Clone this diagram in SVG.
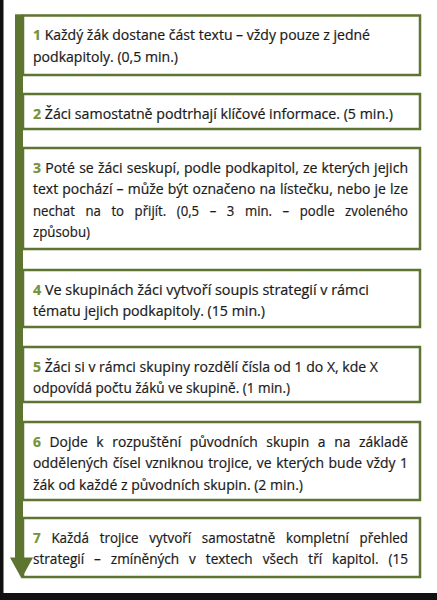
<svg xmlns="http://www.w3.org/2000/svg" width="437" height="600" viewBox="0 0 437 600">
<style>
.box{fill:#ffffff;stroke:#5E7431;stroke-width:2.5}
.t{font-family:"Open Sans","Liberation Sans",sans-serif;font-size:13.8px;fill:#1a1a1a;stroke:#1a1a1a;stroke-width:0.2}
.n{font-weight:bold;fill:#76923C;stroke:#76923C}
.arrow{fill:#5E7431}
</style>
<rect x="0" y="0" width="437" height="600" fill="#ffffff"/>
<rect x="0" y="0" width="3.5" height="600" fill="#111111"/>
<rect x="0" y="593" width="437" height="7" fill="#111111"/>

<g id="step1">
<rect class="box" x="23" y="15.5" width="397" height="59.5"/>
<text class="t" x="33" y="40" textLength="337" lengthAdjust="spacingAndGlyphs"><tspan class="n">1</tspan> Každý žák dostane část textu – vždy pouze z jedné</text>
<text class="t" x="33" y="61.5" textLength="145" lengthAdjust="spacingAndGlyphs">podkapitoly. (0,5 min.)</text>
</g>

<g id="step2">
<rect class="box" x="23" y="94" width="397" height="35"/>
<text class="t" x="33" y="118.5" textLength="360" lengthAdjust="spacingAndGlyphs"><tspan class="n">2</tspan> Žáci samostatně podtrhají klíčové informace. (5 min.)</text>
</g>

<g id="step3">
<rect class="box" x="23" y="148" width="397" height="101"/>
<text class="t" x="33" y="172.5" textLength="375" lengthAdjust="spacingAndGlyphs" word-spacing="0.5"><tspan class="n">3</tspan> Poté se žáci seskupí, podle podkapitol, ze kterých jejich</text>
<text class="t" x="33" y="194" textLength="375" lengthAdjust="spacingAndGlyphs" word-spacing="0.5">text pochází – může být označeno na lístečku, nebo je lze</text>
<text class="t" x="33" y="215.5" textLength="375" lengthAdjust="spacingAndGlyphs" word-spacing="7.5">nechat na to přijít. (0,5 – 3 min. – podle zvoleného</text>
<text class="t" x="33" y="237" textLength="57" lengthAdjust="spacingAndGlyphs">způsobu)</text>
</g>

<g id="step4">
<rect class="box" x="23" y="270" width="397" height="57"/>
<text class="t" x="33" y="294.5" textLength="336" lengthAdjust="spacingAndGlyphs"><tspan class="n">4</tspan> Ve skupinách žáci vytvoří soupis strategií v rámci</text>
<text class="t" x="33" y="316" textLength="232" lengthAdjust="spacingAndGlyphs">tématu jejich podkapitoly. (15 min.)</text>
</g>

<g id="step5">
<rect class="box" x="23" y="347" width="397" height="55"/>
<text class="t" x="33" y="371.5" textLength="345" lengthAdjust="spacingAndGlyphs"><tspan class="n">5</tspan> Žáci si v rámci skupiny rozdělí čísla od 1 do X, kde X</text>
<text class="t" x="33" y="393" textLength="257" lengthAdjust="spacingAndGlyphs">odpovídá počtu žáků ve skupině. (1 min.)</text>
</g>

<g id="step6">
<rect class="box" x="23" y="422" width="397" height="78"/>
<text class="t" x="33" y="446.5" textLength="375" lengthAdjust="spacingAndGlyphs" word-spacing="5"><tspan class="n">6</tspan> Dojde k rozpuštění původních skupin a na základě</text>
<text class="t" x="33" y="468" textLength="375" lengthAdjust="spacingAndGlyphs" word-spacing="1">oddělených čísel vzniknou trojice, ve kterých bude vždy 1</text>
<text class="t" x="33" y="489.5" textLength="270" lengthAdjust="spacingAndGlyphs">žák od každé z původních skupin. (2 min.)</text>
</g>

<g id="step7">
<rect class="box" x="23" y="518" width="397" height="59"/>
<text class="t" x="33" y="542.5" textLength="375" lengthAdjust="spacingAndGlyphs" word-spacing="7.5"><tspan class="n">7</tspan> Každá trojice vytvoří samostatně kompletní přehled</text>
<text class="t" x="33" y="564" textLength="375" lengthAdjust="spacingAndGlyphs" word-spacing="6.5">strategií – zmíněných v textech všech tří kapitol. (15</text>
</g>

<g id="connectors">
<rect class="arrow" x="15" y="14.3" width="8" height="544"/>
<polygon class="arrow" points="10,557.5 33,557.5 21.5,578.5"/>
</g>
</svg>
